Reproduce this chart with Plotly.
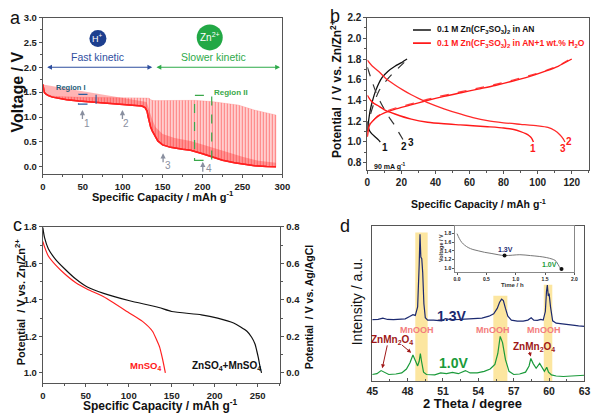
import plotly.graph_objects as go

FONT = "Liberation Sans, Arial, sans-serif"

# ---------------- Panel a data (GITT-like discharge) ----------------
a_low_cap = [0, 0.8, 2, 4, 7, 12, 20, 30, 45, 60, 80, 100, 115, 124, 128, 130.5, 132, 133.5, 135, 137,
             140, 144, 150, 160, 175, 185, 200, 212, 225, 240, 255, 265, 280, 292]
a_low_v = [1.655, 1.56, 1.49, 1.46, 1.43, 1.40, 1.37, 1.345, 1.32, 1.30, 1.28, 1.26, 1.24, 1.22, 1.19, 1.12,
           1.0, 0.88, 0.80, 0.72, 0.62, 0.52, 0.44, 0.39, 0.35, 0.33, 0.26, 0.19, 0.13, 0.08, 0.04, 0.02, 0.005, 0.0]
a_up_cap = [0, 0.8, 2, 4, 7, 12, 20, 30, 50, 80, 110, 130, 133, 135, 137, 140, 160, 190, 212, 230, 245,
            265, 280, 292, 292]
a_up_v = [1.655, 1.56, 1.49, 1.46, 1.44, 1.42, 1.41, 1.40, 1.395, 1.39, 1.39, 1.39, 1.38, 1.35, 1.335, 1.33,
          1.335, 1.335, 1.31, 1.28, 1.24, 1.14, 1.08, 1.04, 0.0]
# top of the dense (relaxation) red band after the plateau drop
a_dense_cap = [130, 134, 137, 141, 150, 165, 185, 205, 225, 250, 270, 292]
a_dense_v = [1.3, 1.1, 0.95, 0.8, 0.66, 0.58, 0.52, 0.42, 0.32, 0.2, 0.12, 0.08]

# ---------------- Panel b data ----------------
b_an_c1_x = [0, 0.7, 1.6, 2.9, 5, 8.6, 12, 16.2, 20, 23.3]
b_an_c1_y = [1.10, 1.20, 1.30, 1.39, 1.50, 1.62, 1.68, 1.73, 1.765, 1.80]
b_an_d1_x = [0, 0.5, 1.2, 2.5, 4.8, 6.5, 7.6]
b_an_d1_y = [1.20, 1.15, 1.11, 1.08, 1.045, 1.02, 1.00]
b_an_c23_x = [0, 1.9, 4, 6.7, 10, 14.3, 18, 22.4]
b_an_c23_y = [1.10, 1.27, 1.38, 1.49, 1.57, 1.65, 1.71, 1.78]
b_an_d23_x = [0, 2, 4.8, 7.5, 10.5, 13.5, 16.2, 18.5, 21]
b_an_d23_y = [1.72, 1.62, 1.49, 1.39, 1.30, 1.22, 1.157, 1.09, 1.02]

b_w_c1_x = [0, 0.5, 1.5, 3, 6, 10, 16, 25, 35, 45, 55, 65, 75, 85, 95, 105, 112, 120]
b_w_c1_y = [1.05, 1.12, 1.17, 1.20, 1.245, 1.28, 1.315, 1.355, 1.40, 1.44, 1.475, 1.51, 1.545, 1.585, 1.63,
            1.685, 1.73, 1.80]
b_w_c23_x = [0, 0.5, 1.5, 3, 6, 10, 16, 25, 35, 45, 55, 65, 75, 85, 95, 105, 112, 118]
b_w_c23_y = [1.05, 1.12, 1.17, 1.20, 1.25, 1.29, 1.325, 1.365, 1.41, 1.45, 1.485, 1.52, 1.555, 1.595, 1.64,
             1.69, 1.735, 1.79]
b_w_d1_x = [0, 2, 4, 6.7, 10, 16.2, 25.8, 35.4, 45, 54.5, 62, 70.5, 80, 86, 90, 93, 95, 96.5, 97.5]
b_w_d1_y = [1.45, 1.40, 1.37, 1.345, 1.31, 1.27, 1.22, 1.19, 1.175, 1.165, 1.157, 1.147, 1.135, 1.12, 1.10,
            1.08, 1.06, 1.035, 1.00]
b_w_d23_x = [0, 3, 6.7, 11, 16.2, 21, 25.8, 30, 35.4, 45, 54.5, 62, 70.5, 80, 90, 100, 106, 110, 113, 115, 116]
b_w_d23_y = [1.79, 1.73, 1.68, 1.61, 1.55, 1.50, 1.455, 1.42, 1.38, 1.32, 1.27, 1.235, 1.205, 1.185, 1.17,
             1.155, 1.14, 1.11, 1.07, 1.03, 1.00]

# ---------------- Panel c data ----------------
c_zn_cap = [0, 2, 6.4, 15, 25.3, 38, 51.8, 70.8, 101, 135, 150, 184.5, 203.4, 222, 237.5, 243, 247, 249,
            250.7, 252.5, 254.5]
c_zn_v = [1.795, 1.74, 1.68, 1.62, 1.57, 1.515, 1.47, 1.435, 1.395, 1.358, 1.336, 1.318, 1.30, 1.273, 1.228,
          1.195, 1.157, 1.12, 1.085, 1.04, 1.0]
c_mn_cap = [0, 2, 6.4, 15, 25.3, 38, 51.8, 70.8, 101, 116, 127.6, 133, 136, 138, 140.5, 142.6]
c_mn_v = [1.72, 1.69, 1.64, 1.59, 1.543, 1.495, 1.458, 1.417, 1.327, 1.282, 1.228, 1.174, 1.14, 1.103, 1.05, 1.0]

# ---------------- Panel d data (XRD) ----------------
d13_x = [45.0, 45.5, 45.9, 46.3, 46.8, 47.3, 47.8, 48.17, 48.45, 48.65, 48.85, 48.98, 49.05, 49.12, 49.2,
         49.28, 49.38, 49.5, 49.7, 50.2, 50.9, 51.2, 51.6, 52.5, 53.5, 54.3, 54.9, 55.3, 55.6, 55.8, 55.97,
         56.12, 56.3, 56.5, 56.8, 57.3, 57.8, 58.2, 58.48, 58.7, 59.0, 59.3, 59.5, 59.68, 59.78, 59.85,
         59.93, 60.0, 60.12, 60.3, 60.6, 61.0, 61.5, 62.0, 62.5, 63.0]
d13_y = [39.8, 40.0, 40.8, 39.9, 39.8, 40.0, 40.3, 41.8, 43.0, 42.5, 48.0, 75.0, 94.7, 80.0, 79.0, 70.0, 50.0,
         41.0, 39.5, 39.5, 39.0, 40.5, 39.8, 40.0, 40.2, 40.8, 42.0, 43.5, 47.0, 51.0, 53.0, 52.0, 47.0, 42.0,
         39.5, 38.8, 38.8, 39.5, 41.0, 39.5, 39.3, 40.0, 39.5, 45.0, 58.0, 62.0, 55.0, 56.5, 48.0, 39.0, 37.5,
         37.0, 36.5, 36.2, 35.8, 35.5]
d10_x = [45.0, 45.4, 45.75, 46.0, 46.4, 47.0, 47.5, 47.9, 48.2, 48.45, 48.65, 48.85, 48.98, 49.08, 49.18,
         49.35, 49.6, 50.3, 50.8, 51.3, 51.8, 52.3, 52.9, 53.3, 53.9, 54.5, 55.0, 55.4, 55.65, 55.85, 56.05,
         56.3, 56.6, 57.0, 57.5, 58.0, 58.3, 58.45, 58.65, 58.9, 59.2, 59.45, 59.6, 59.8, 59.95, 60.2, 60.6,
         61.2, 62.0, 62.5, 63.0]
d10_y = [4.5, 5.0, 7.0, 6.0, 4.5, 4.8, 5.5, 8.0, 12.0, 17.0, 14.0, 10.0, 13.0, 18.0, 13.0, 6.0, 4.5, 4.3, 5.5,
         5.0, 5.8, 5.0, 7.0, 5.5, 5.5, 6.5, 8.0, 11.0, 18.0, 29.0, 25.0, 14.0, 6.5, 4.5, 4.8, 6.0, 10.0, 14.8,
         11.5, 8.5, 11.6, 8.0, 6.5, 9.1, 6.0, 4.2, 3.5, 3.2, 3.5, 3.8, 4.0]
d_band_lo = [48.65, 55.27, 59.55]
d_band_hi = [49.7, 56.46, 60.27]
d_band_top = [95.8, 55.2, 62.3]
d_mnooh_x = [48.8, 55.2, 59.6]

# inset
ins_t = [0, 0.04, 0.083, 0.13, 0.19, 0.27, 0.36, 0.47, 0.58, 0.7, 0.81, 0.95, 1.07, 1.25, 1.4, 1.52, 1.62,
         1.67, 1.70, 1.72, 1.74, 1.76, 1.78]
ins_v = [1.795, 1.68, 1.59, 1.53, 1.475, 1.43, 1.40, 1.365, 1.34, 1.31, 1.29, 1.30, 1.31, 1.29, 1.27, 1.245,
         1.21, 1.18, 1.135, 1.09, 1.04, 1.0, 0.98]
ins_mark_t = [0.81, 1.78]
ins_mark_v = [1.29, 0.98]

fig = go.Figure()

def line(x, y, xa, ya, color, width=1.3, dash="solid"):
    fig.add_trace(go.Scatter(x=x, y=y, xaxis=xa, yaxis=ya, mode="lines", showlegend=False,
                             line=dict(color=color, width=width, dash=dash, shape="spline", smoothing=0.6),
                             hoverinfo="skip"))

# Panel a
fig.add_trace(go.Scatter(x=a_low_cap, y=a_low_v, xaxis="x", yaxis="y", mode="lines", showlegend=False,
                         line=dict(color="#ff2020", width=1.5), hoverinfo="skip"))
fig.add_trace(go.Scatter(x=a_up_cap, y=a_up_v, xaxis="x", yaxis="y", mode="lines", showlegend=False,
                         line=dict(color="rgba(255,120,120,0.5)", width=0.5), fill="tonexty",
                         fillcolor="rgba(255,210,210,0.6)",
                         fillpattern=dict(shape="|", size=3, solidity=0.5, fgcolor="#ff1a1a",
                                          bgcolor="rgba(255,215,215,0.6)"),
                         hoverinfo="skip"))
fig.add_trace(go.Scatter(x=a_low_cap, y=a_low_v, xaxis="x", yaxis="y", mode="lines", showlegend=False,
                         line=dict(color="#ff2020", width=1.5), hoverinfo="skip"))
fig.add_trace(go.Scatter(x=a_dense_cap, y=a_dense_v, xaxis="x", yaxis="y", mode="lines", showlegend=False,
                         line=dict(width=0), fill="tonexty", fillcolor="rgba(255,40,40,0.35)",
                         hoverinfo="skip"))

# Panel b
line(b_an_c1_x, b_an_c1_y, "x2", "y2", "#111111", 1.3)
line(b_an_d1_x, b_an_d1_y, "x2", "y2", "#111111", 1.3)
line(b_an_c23_x, b_an_c23_y, "x2", "y2", "#333333", 1.2, "dash")
line(b_an_d23_x, b_an_d23_y, "x2", "y2", "#333333", 1.2, "dash")
line(b_w_c23_x, b_w_c23_y, "x2", "y2", "#ff4040", 1.2, "dash")
line(b_w_c1_x, b_w_c1_y, "x2", "y2", "#ff1a1a", 1.4)
line(b_w_d1_x, b_w_d1_y, "x2", "y2", "#ff1a1a", 1.4)
line(b_w_d23_x, b_w_d23_y, "x2", "y2", "#ff2a2a", 1.3)

# Panel c
line(c_zn_cap, c_zn_v, "x3", "y3", "#111111", 1.2)
line(c_mn_cap, c_mn_v, "x3", "y3", "#ff2020", 1.2)
fig.add_trace(go.Scatter(x=[0], y=[0], xaxis="x3", yaxis="y6", mode="markers", marker=dict(opacity=0),
                         showlegend=False, hoverinfo="skip"))

# Panel d bands
shapes = []
for lo, hi, top in zip(d_band_lo, d_band_hi, d_band_top):
    shapes.append(dict(type="rect", xref="x4", yref="y4", x0=lo, x1=hi, y0=0, y1=top,
                       fillcolor="rgba(251,220,120,0.7)", line=dict(width=0), layer="below"))
fig.add_trace(go.Scatter(x=d13_x, y=d13_y, xaxis="x4", yaxis="y4", mode="lines", showlegend=False,
                         line=dict(color="#1c2a70", width=1.2), hoverinfo="skip"))
fig.add_trace(go.Scatter(x=d10_x, y=d10_y, xaxis="x4", yaxis="y4", mode="lines", showlegend=False,
                         line=dict(color="#1a9a3a", width=1.2), hoverinfo="skip"))

# inset
fig.add_trace(go.Scatter(x=ins_t, y=ins_v, xaxis="x5", yaxis="y5", mode="lines", showlegend=False,
                         line=dict(color="#777777", width=1, shape="spline"), hoverinfo="skip"))
fig.add_trace(go.Scatter(x=ins_mark_t, y=ins_mark_v, xaxis="x5", yaxis="y5", mode="markers", showlegend=False,
                         marker=dict(color="#111111", size=4), hoverinfo="skip"))

# --------- axes ---------
def ax(domain, rng, dtick, minor=None, anchor=None, showlabels=True, fs=9, ticklen=3, tickdir="outside", **kw):
    d = dict(domain=domain, range=rng, dtick=dtick, showline=True, mirror=True, linecolor="#555555",
             linewidth=1, ticks=tickdir if showlabels else "", ticklen=ticklen, tickcolor="#555555",
             showgrid=False, zeroline=False, showticklabels=showlabels,
             tickfont=dict(family=FONT, size=fs, color="#222222", weight="bold"), anchor=anchor)
    if minor:
        d["minor"] = dict(dtick=minor, ticks=tickdir, ticklen=2, tickcolor="#555555", showgrid=False)
    d.update(kw)
    return d

W, H = 600.0, 413.0
def dx(p0, p1):
    return [p0 / W, p1 / W]
def dy(ptop, pbot):
    return [1 - pbot / H, 1 - ptop / H]

layout = dict(
    width=600, height=413, margin=dict(l=0, r=0, t=0, b=0), autosize=False,
    paper_bgcolor="white", plot_bgcolor="white", showlegend=False,
    font=dict(family=FONT, color="#111111"),
    xaxis=ax(dx(37.7, 283), [0, 300], 50, 25, "y", fs=9.5, tickformat="d"),
    yaxis=ax(dy(11.7, 170.7), [-0.15, 3.0], 0.5, 0.25, "x", fs=9.5, tickformat=".1f"),
    xaxis2=ax(dx(370, 596.7), [0, 130], 20, 10, "y2", fs=10),
    yaxis2=ax(dy(11.7, 166.7), [0.727, 2.2], 0.2, 0.1, "x2", fs=10, tickformat=".1f"),
    xaxis3=ax(dx(37.7, 281), [0, 276.5], 50, 25, "y3", fs=9.5),
    yaxis3=ax(dy(224, 382.7), [0.944, 1.8], 0.2, 0.1, "x3", fs=9.5, tickformat=".1f"),
    yaxis6=ax(dy(224, 382.7), [-0.056, 0.8], 0.2, 0.1, "x3", fs=9.5, tickformat=".1f", overlaying="y3",
              side="right", mirror=False),
    xaxis4=ax(dx(375, 592.3), [45, 63], 3, 1.5, "y4", fs=10.5, tickdir="inside"),
    yaxis4=ax(dy(223.3, 381), [0, 100], 20, None, "x4", showlabels=False),
    xaxis5=ax(dx(460, 582), [-0.03, 2.0], 0.5, None, "y5", fs=5, ticklen=2, tickformat=".1f",
              linecolor="#888888"),
    yaxis5=ax(dy(223.3, 270), [0.91, 1.97], 0.2, None, "x5", fs=5, ticklen=2, tickformat=".1f",
              linecolor="#888888", tickvals=[1.0, 1.2, 1.4, 1.6, 1.8]),
)

# Panel a annotations / shapes
shapes += [
    dict(type="circle", xref="x", yref="y", xsizemode="pixel", ysizemode="pixel", xanchor=69, yanchor=2.58,
         x0=-8.5, x1=8.5, y0=-8.5, y1=8.5, fillcolor="#1d3f8f", line=dict(width=0)),
    dict(type="circle", xref="x", yref="y", xsizemode="pixel", ysizemode="pixel", xanchor=209, yanchor=2.6,
         x0=-13, x1=13, y0=-13, y1=13, fillcolor="#22a845", line=dict(width=0)),
    dict(type="rect", xref="x", yref="y", x0=44.7, x1=66.7, y0=1.258, y1=1.456,
         line=dict(color="#2a5d9f", width=1.2, dash="dash")),
    dict(type="rect", xref="x", yref="y", x0=190, x1=211.5, y0=0.13, y1=1.437,
         line=dict(color="#3aa84a", width=1.2, dash="dash")),
    # legend in b
    dict(type="line", xref="x2", yref="y2", x0=26.8, x1=37.3, y0=2.08, y1=2.08,
         line=dict(color="#111111", width=1.6)),
    dict(type="line", xref="x2", yref="y2", x0=26.8, x1=37.3, y0=1.953, y1=1.953,
         line=dict(color="#ff1a1a", width=1.6)),
]

ann = []
def A(text, x, y, xref, yref, size=10, color="#111111", bold=False, xanchor="center", yanchor="middle",
      angle=0):
    ann.append(dict(text=text, x=x, y=y, xref=xref, yref=yref, showarrow=False, xanchor=xanchor,
                    yanchor=yanchor, textangle=angle,
                    font=dict(family=FONT, size=size, color=color, weight="bold" if bold else "normal")))

def ARW(x, y, axv, ayv, xref, yref, color, width=1.2, head=2, side="end", size=1.0):
    ann.append(dict(text="", x=x, y=y, ax=axv, ay=ayv, xref=xref, yref=yref, axref=xref, ayref=yref,
                    showarrow=True, arrowhead=head, startarrowhead=head, arrowside=side,
                    arrowsize=size, startarrowsize=size, arrowwidth=width, arrowcolor=color))

def px(p):
    return p / W
def py(p):
    return 1 - p / H

# panel letters
A("a", px(10), py(12), "paper", "paper", 18)
A("b", px(336.7), py(10), "paper", "paper", 18)
A("c", px(12), py(222), "paper", "paper", 18)
A("d", px(346.7), py(223.5), "paper", "paper", 18)

# axis titles
A("Voltage / V", px(12), py(87), "paper", "paper", 16, bold=True, angle=-90)
A("Specific Capacity / mAh g<sup>-1</sup>", px(160.5), py(192.5), "paper", "paper", 11, bold=True)
A("Potential  / V vs. Zn/Zn<sup>2+</sup>", px(338), py(84), "paper", "paper", 12, bold=True, angle=-90)
A("Specific Capacity / mAh g<sup>-1</sup>", px(484), py(200), "paper", "paper", 10.5, bold=True)
A("Potential  / V vs. Zn/Zn<sup>2+</sup>", px(14), py(300), "paper", "paper", 11, bold=True, angle=-90)
A("Specific Capacity / mAh g<sup>-1</sup>", px(158.5), py(405), "paper", "paper", 12, bold=True)
A("Potential  / V vs. Ag/AgCl", px(310), py(305), "paper", "paper", 10.5, bold=True, angle=-90)
A("2 Theta / degree", px(477.5), py(403), "paper", "paper", 13, bold=True)
A("Intensity / a.u.", px(359), py(300), "paper", "paper", 14, angle=-90)

# panel a texts
A("H<sup>+</sup>", 69, 2.58, "x", "y", 9, "white")
A("Zn<sup>2+</sup>", 209, 2.6, "x", "y", 10, "white")
A("Fast kinetic", 69, 2.2, "x", "y", 10.5, "#2f4f9f")
A("Slower kinetic", 214, 2.2, "x", "y", 10.5, "#2eaa4a")
ARW(137, 2.0, 3.6, 2.0, "x", "y", "#2f4f9f", 1.2, 2, "end+start", 0.8)
ARW(297, 2.0, 140.5, 2.0, "x", "y", "#2eaa4a", 1.2, 2, "end+start", 0.8)
A("Region I", 35.5, 1.59, "x", "y", 7.5, "#1b5e7a", True)
A("Region II", 235.5, 1.50, "x", "y", 8, "#3aa84a", True)
for xa, yh, yt in [(49.6, 1.14, 0.93), (99.7, 1.14, 0.93), (150.6, 0.27, 0.06), (200.3, 0.1, -0.13)]:
    ARW(xa, yh, xa, yt, "x", "y", "#8a90a0", 1.3, 2, "end", 0.8)
for t, xa, ya in [("1", 55.7, 0.86), ("2", 104.6, 0.86), ("3", 156.7, 0.02), ("4", 208.4, -0.03)]:
    A(t, xa, ya, "x", "y", 10, "#8a90a0")

# panel b texts
A("0.1 M Zn(CF<sub>3</sub>SO<sub>3</sub>)<sub>2</sub> in AN", 40, 2.08, "x2", "y2", 8.5, "#111111", True, "left")
A("0.1 M Zn(CF<sub>3</sub>SO<sub>3</sub>)<sub>2</sub> in AN+1 wt.% H<sub>2</sub>O", 40, 1.953, "x2", "y2", 8.5,
  "#ff1a1a", True, "left")
A("90 mA g<sup>-1</sup>", 2.9, 0.765, "x2", "y2", 7, "#111111", True, "left")
for t, xa, ya, col in [("1", 10.5, 0.945, "#111111"), ("2", 21.4, 0.96, "#111111"), ("3", 25.8, 0.995, "#111111"),
                       ("1", 97.5, 0.935, "#ff1a1a"), ("3", 114.7, 0.935, "#ff1a1a"), ("2", 118.5, 1.005, "#ff1a1a")]:
    A(t, xa, ya, "x2", "y2", 10, col, True)

# panel c texts
A("MnSO<sub>4</sub>", 119, 1.04, "x3", "y3", 9.5, "#ff1a1a", True)
A("ZnSO<sub>4</sub>+MnSO<sub>4</sub>", 214, 1.04, "x3", "y3", 10, "#111111", True)

# panel d texts
for xm in d_mnooh_x:
    A("MnOOH", xm, 33, "x4", "y4", 9, "#f37c7c", True)
A("1.3V", 51.7, 42, "x4", "y4", 14, "#1c2a70", True)
A("1.0V", 51.9, 11.7, "x4", "y4", 14, "#1a9a3a", True)
A("ZnMn<sub>2</sub>O<sub>4</sub>", 46.66, 26.8, "x4", "y4", 10, "#a01818", True)
A("ZnMn<sub>2</sub>O<sub>4</sub>", 58.7, 22.4, "x4", "y4", 10, "#a01818", True)
ARW(45.85, 8.5, 46.3, 24.2, "x4", "y4", "#a01818", 1.0, 2, "end", 0.8)
ARW(48.3, 18.5, 47.4, 24.2, "x4", "y4", "#a01818", 1.0, 2, "end", 0.8)
ARW(58.45, 16.0, 58.3, 20.0, "x4", "y4", "#a01818", 1.0, 2, "end", 0.8)

# inset texts
A("1.3V", 0.83, 1.44, "x5", "y5", 7, "#1c2a70", True)
A("1.0V", 1.57, 1.09, "x5", "y5", 7, "#1a9a3a", True)
A("Voltage / V", px(446), py(246), "paper", "paper", 5.5, "#333333", True, angle=-90)
A("Time / h", 0.95, py(283), "x5", "paper", 6, "#333333", True)

layout["shapes"] = shapes
layout["annotations"] = ann
fig.update_layout(**layout)
fig.write_html("out.html")
